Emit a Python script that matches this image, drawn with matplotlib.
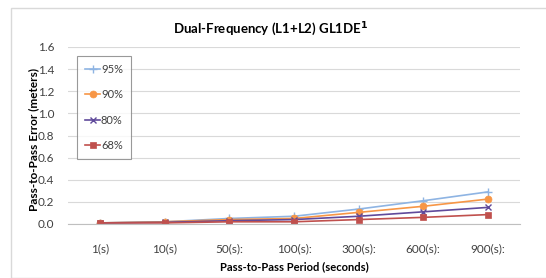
import matplotlib
matplotlib.use("Agg")
import matplotlib.pyplot as plt
from matplotlib.patches import Rectangle

categories = ["1(s)", "10(s)", "50(s):", "100(s):", "300(s):", "600(s):", "900(s):"]
p95 = [0.01, 0.02, 0.05, 0.07, 0.135, 0.21, 0.29]
p90 = [0.01, 0.02, 0.04, 0.05, 0.105, 0.16, 0.225]
p80 = [0.01, 0.015, 0.03, 0.04, 0.07, 0.11, 0.15]
p68 = [0.01, 0.01, 0.02, 0.02, 0.04, 0.06, 0.085]
yticks = [0.0, 0.2, 0.4, 0.6, 0.8, 1.0, 1.2, 1.4, 1.6]

plt.rcParams['font.family'] = ['Lato', 'DejaVu Sans']

fig = plt.figure(figsize=(5.46, 2.78), dpi=100)
fig.patches.append(Rectangle((11/546, 0), 1, 1 - 8/278, transform=fig.transFigure,
                             fill=False, edgecolor='#d9d9d9', linewidth=1))
ax = fig.add_axes([68/546, 1 - 224/278, 452/546, 177/278])

x = range(len(categories))
series = [
    ("95%", p95, '#8eb4e3', '+', 6, 1.2),
    ("90%", p90, '#f79646', 'o', 5, 1.2),
    ("80%", p80, '#604a9b', 'x', 4, 1.2),
    ("68%", p68, '#c0504d', 's', 5, 1.2),
]
for label, vals, col, mk, ms, lw in series:
    ax.plot(x, vals, color=col, marker=mk, markersize=ms, linewidth=lw, label=label,
            markeredgewidth=1 if mk in '+x' else 0.5)

ax.set_xlim(-0.5, len(categories) - 0.5)
ax.set_ylim(0, 1.6)
ax.set_yticks(yticks)
ax.set_yticklabels([f"{v:.1f}" for v in yticks])
ax.set_xticks(list(x))
ax.set_xticklabels(categories)
ax.tick_params(length=0, labelsize=8.5, colors='#404040')
ax.tick_params(axis='y', pad=10)
ax.tick_params(axis='x', pad=14)
ax.grid(axis='y', color='#d9d9d9', linewidth=0.8)
ax.set_axisbelow(True)
for s in ['top', 'right', 'left']:
    ax.spines[s].set_visible(False)
ax.spines['bottom'].set_color('#bfbfbf')

ax.set_xlabel("Pass-to-Pass Period (seconds)", fontsize=8, fontweight='bold', labelpad=5)
ax.set_ylabel("Pass-to-Pass Error (meters)", fontsize=8.5, fontweight='bold')
ax.yaxis.set_label_coords(-29/452, (224 - 140) / 177)
fig.text(0.495, 1 - 29/278, "Dual-Frequency (L1+L2) GL1DE$^{\\mathbf{1}}$", ha='center', va='center',
         fontsize=9.5, fontweight='bold')

leg = ax.legend(loc='upper left', bbox_to_anchor=(9/452, 1 - 9/177), borderaxespad=0,
                frameon=True, fancybox=False,
                edgecolor='#808080', fontsize=8, labelspacing=1.3, handlelength=1.4,
                handletextpad=0.05, borderpad=0.7, labelcolor='#404040')
leg.get_frame().set_linewidth(0.8)

fig.savefig("out.png", dpi=100)
